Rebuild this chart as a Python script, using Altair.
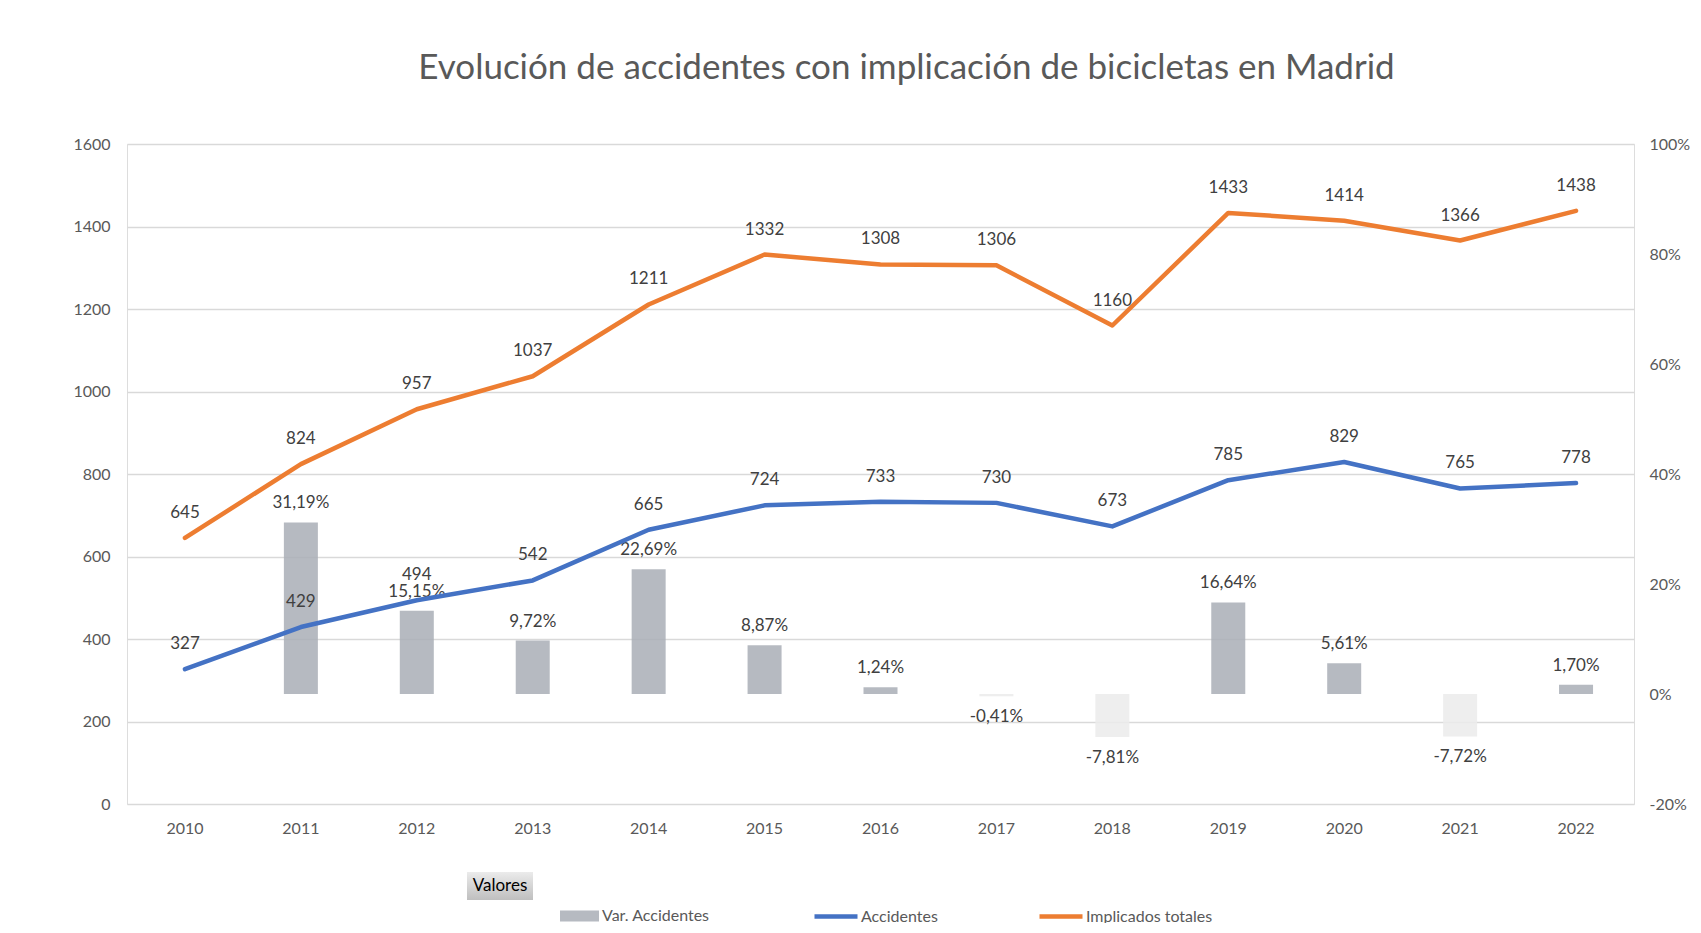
import altair as alt
import pandas as pd

# ---- data ----
years = ["2010", "2011", "2012", "2013", "2014", "2015", "2016",
         "2017", "2018", "2019", "2020", "2021", "2022"]
accidentes = [327, 429, 494, 542, 665, 724, 733, 730, 673, 785, 829, 765, 778]
implicados = [645, 824, 957, 1037, 1211, 1332, 1308, 1306, 1160, 1433, 1414, 1366, 1438]
var_pct = [None, 31.19, 15.15, 9.72, 22.69, 8.87, 1.24, -0.41, -7.81, 16.64, 5.61, -7.72, 1.70]

left_ticks = [0, 200, 400, 600, 800, 1000, 1200, 1400, 1600]
right_ticks = [-0.2, 0.0, 0.2, 0.4, 0.6, 0.8, 1.0]

FONT = "Lato"
AXIS_COL = "#595959"
LABEL_COL = "#404040"

# ---- tables ----
bars_df = pd.DataFrame({
    "year": years[1:],
    "var": [v / 100 for v in var_pct[1:]],
    "label": [f"{v:.2f}".replace(".", ",") + "%" for v in var_pct[1:]],
    "serie": ["Var. Accidentes" if v >= 0 else "neg" for v in var_pct[1:]],
})

lines_df = pd.concat([
    pd.DataFrame({"year": years, "valor": accidentes, "serie": "Accidentes"}),
    pd.DataFrame({"year": years, "valor": implicados, "serie": "Implicados totales"}),
], ignore_index=True)

x_enc = alt.X(
    "year:N",
    sort=years,
    scale=alt.Scale(type="band", paddingInner=0, paddingOuter=0),
    axis=alt.Axis(title=None, labelAngle=0, domain=False, ticks=False,
                  labelPadding=16, labelFont=FONT, labelFontSize=16,
                  labelColor=AXIS_COL, grid=False),
)

right_axis = alt.Axis(
    orient="right", title=None, values=right_ticks, grid=False, domain=False,
    ticks=False, labelPadding=15, labelFont=FONT, labelFontSize=16,
    labelColor=AXIS_COL,
    labelExpr="(datum.value < -0.0001 ? '-' : '') + format(abs(datum.value) * 100, '.0f') + '%'",
)
y_right = alt.Y("var:Q", scale=alt.Scale(domain=[-0.2, 1.0], nice=False, zero=False),
                axis=right_axis)

left_axis = alt.Axis(
    orient="left", title=None, values=left_ticks, grid=True, gridColor="#d9d9d9",
    gridWidth=1.3, domain=False, ticks=False, labelPadding=17, format="d",
    labelFont=FONT, labelFontSize=16, labelColor=AXIS_COL,
)
y_left = alt.Y("valor:Q", scale=alt.Scale(domain=[0, 1600], nice=False), axis=left_axis)

LEG_Y = 772  # legend centre, relative to the plot top

# ---- bars (right axis) ----
bars = alt.Chart(bars_df).mark_bar(width=34, opacity=0.85).encode(
    x=x_enc,
    y=y_right,
    color=alt.Color(
        "serie:N",
        scale=alt.Scale(domain=["Var. Accidentes", "neg"], range=["#a9aeb6", "#ebebeb"]),
        legend=alt.Legend(
            orient="none", legendX=433, legendY=LEG_Y - 19.5, direction="horizontal",
            title=None, values=["Var. Accidentes"],
            symbolType="M-1,-0.28H1V0.28H-1Z", symbolSize=1521,
            symbolStrokeWidth=0, symbolOpacity=0.85, labelFont=FONT, labelFontSize=16,
            labelColor=AXIS_COL, labelOffset=3, padding=0,
        ),
    ),
)

bar_lab_pos = alt.Chart(bars_df).transform_filter("datum.var >= 0").mark_text(
    baseline="middle", dy=-19, font=FONT, fontSize=17, color=LABEL_COL
).encode(x=x_enc, y=y_right, text="label:N")

bar_lab_neg = alt.Chart(bars_df).transform_filter("datum.var < 0").mark_text(
    baseline="middle", dy=21, font=FONT, fontSize=17, color=LABEL_COL
).encode(x=x_enc, y=y_right, text="label:N")

bar_group = alt.layer(bars, bar_lab_pos, bar_lab_neg)

# ---- lines (left axis) ----
lines = alt.Chart(lines_df).mark_line(strokeWidth=4.5, strokeCap="round",
                                      strokeJoin="round").encode(
    x=x_enc,
    y=y_left,
    color=alt.Color(
        "serie:N",
        scale=alt.Scale(domain=["Accidentes", "Implicados totales"],
                        range=["#4472c4", "#ed7d31"]),
        legend=alt.Legend(
            orient="none", legendX=685, legendY=LEG_Y - 23.5, direction="horizontal",
            title=None, symbolType="stroke", symbolSize=1850, symbolStrokeWidth=4.5,
            labelFont=FONT, labelFontSize=16, labelColor=AXIS_COL, labelOffset=1,
            columnPadding=92, padding=0,
        ),
    ),
)

line_labels = alt.Chart(lines_df).mark_text(
    baseline="middle", dy=-25, font=FONT, fontSize=17, color=LABEL_COL
).encode(x=x_enc, y=y_left, text=alt.Text("valor:Q", format="d"))

line_group = alt.layer(lines, line_labels)

# ---- pivot field button "Valores" ----
btn_df = pd.DataFrame({"t": ["Valores"]})
btn_rect = alt.Chart(btn_df).mark_rect(
    color=alt.Gradient(
        gradient="linear",
        stops=[alt.GradientStop(color="#ebebeb", offset=0),
               alt.GradientStop(color="#bfbfbf", offset=1)],
        x1=0, x2=0, y1=0, y2=1,
    )
).encode(x=alt.value(340), x2=alt.value(406), y=alt.value(728), y2=alt.value(756))
btn_text = alt.Chart(btn_df).mark_text(
    font=FONT, fontSize=17, color="#000000", baseline="middle", align="center"
).encode(x=alt.value(373), y=alt.value(742), text="t:N")

chart = alt.layer(bar_group, line_group, btn_rect, btn_text).resolve_scale(
    y="independent", color="independent"
).properties(
    width=1507,
    height=660,
    padding={"left": 119, "top": 136, "right": 58, "bottom": 119},
    autosize=alt.AutoSizeParams(type="none"),
    title=alt.TitleParams(
        text="Evolución de accidentes con implicación de bicicletas en Madrid",
        font=FONT, fontSize=35, fontWeight="normal", color=AXIS_COL,
        anchor="middle", frame="group", dx=26, offset=22, baseline="alphabetic",
    ),
).configure_view(stroke=None).configure(background="white")

chart.save("out.html", embed_options={"renderer": "svg", "actions": False})
